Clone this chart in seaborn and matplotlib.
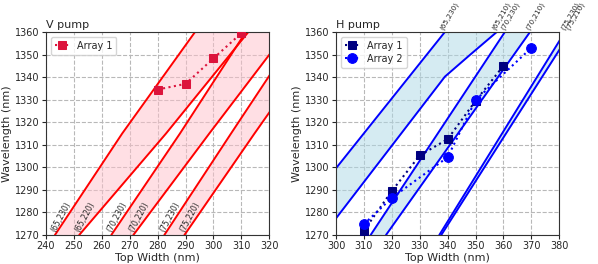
import numpy as np
import matplotlib
matplotlib.use("Agg")
import matplotlib.pyplot as plt
import seaborn as sns

sns.set_style("ticks", {"axes.grid": True, "grid.linestyle": "--", "grid.color": "#b8b8b8"})
plt.rcParams['font.family'] = ['DejaVu Sans']

# ---- V pump: simulated (top width, wavelength) curves
v_names = ["(65,230)", "(65,220)", "(70,230)", "(70,220)", "(75,230)", "(75,220)"]
v_wl = [
    [1270, 1315, 1360],
    [1270, 1315, 1360],
    [1270, 1315, 1360],
    [1270, 1315, 1360],
    [1270, 1315, 1360],
    [1270, 1315, 1360],
]
v_width = [
    [243.2, 267.3, 293.4],
    [251.9, 283.0, 312.5],
    [263.4, 288.0, 311.6],
    [271.3, 298.5, 326.2],
    [282.4, 306.3, 330.4],
    [289.6, 314.7, 340.3],
]
v_arr1_x = [280, 290, 300, 310]
v_arr1_y = [1334.5, 1337.0, 1348.3, 1359.5]

# ---- H pump (first two curves run past the left edge of the axes)
h_names = ["(65,230)", "(65,210)", "(70,230)", "(70,210)", "(75,230)", "(75,210)"]
h_wl = [
    [1270, 1299.6, 1360],
    [1270, 1277.4, 1340.2, 1350.5, 1360],
    [1270, 1360],
    [1270, 1360],
    [1270, 1360],
    [1270, 1360],
]
h_width = [
    [280.9, 300.0, 339.0],
    [295.4, 300.0, 339.0, 348.6, 357.6],
    [312.4, 360.5],
    [317.9, 369.5],
    [337.0, 382.0],
    [337.7, 384.1],
]
h_arr1_x = [310, 320, 330, 340, 350, 360]
h_arr1_y = [1272.0, 1289.5, 1305.3, 1312.5, 1329.5, 1345.0]
h_arr2_x = [310, 320, 340, 350, 370]
h_arr2_y = [1274.8, 1286.5, 1304.5, 1329.8, 1353.0]


def draw_pump(ax, names, wl, width, line_c, fill_c, label_top):
    grid = np.linspace(1270, 1360, 200)
    for i in range(0, len(names), 2):
        xa = np.interp(grid, wl[i], width[i])
        xb = np.interp(grid, wl[i + 1], width[i + 1])
        ax.fill_betweenx(grid, xa, xb, color=fill_c, alpha=0.5, lw=0, zorder=1)
    for name, w, x in zip(names, wl, width):
        ax.plot(x, w, color=line_c, lw=1.4, zorder=2)
        if label_top:
            ax.text(x[-1], w[-1] + 0.3, name, rotation=60, fontsize=5.2,
                    ha="left", va="bottom", rotation_mode="anchor", clip_on=False)
        else:
            ax.text(x[0] + 0.8, w[0] + 0.5, name, rotation=62, fontsize=5.6,
                    ha="left", va="bottom", rotation_mode="anchor", clip_on=False)


fig = plt.figure(figsize=(5.98, 2.64), dpi=100)
ax1 = fig.add_axes([0.0769, 0.1098, 0.3734, 0.769])
ax2 = fig.add_axes([0.5619, 0.1098, 0.3734, 0.769])

draw_pump(ax1, v_names, v_wl, v_width, "red", "pink", False)
sns.lineplot(x=v_arr1_x, y=v_arr1_y, ax=ax1, color="crimson", marker="s", markersize=6,
             markeredgecolor="crimson", linestyle=":", lw=1.5, label="Array 1", zorder=3)
ax1.set_xlim(240, 320)
ax1.set_ylim(1270, 1360)
ax1.set_title("V pump", loc="left", fontsize=8, pad=3)

draw_pump(ax2, h_names, h_wl, h_width, "blue", "lightblue", True)
sns.lineplot(x=h_arr1_x, y=h_arr1_y, ax=ax2, color="navy", marker="s", markersize=6,
             markeredgecolor="navy", linestyle=":", lw=1.5, label="Array 1", zorder=3)
sns.lineplot(x=h_arr2_x, y=h_arr2_y, ax=ax2, color="blue", marker="o", markersize=7,
             markeredgecolor="blue", linestyle=":", lw=1.5, label="Array 2", zorder=3)
ax2.set_xlim(300, 380)
ax2.set_ylim(1270, 1360)
ax2.set_title("H pump", loc="left", fontsize=8, pad=3)

for ax in (ax1, ax2):
    ax.set_xlabel("Top Width (nm)", fontsize=8, labelpad=1)
    ax.set_ylabel("Wavelength (nm)", fontsize=8, labelpad=2)
    ax.tick_params(labelsize=7, length=3, pad=1.5)
    ax.set_yticks(np.arange(1270, 1361, 10))
    ax.set_xticks(np.arange(ax.get_xlim()[0], ax.get_xlim()[1] + 1, 10))
    ax.legend(loc="upper left", fontsize=7, frameon=True, handlelength=1.5,
              borderpad=0.4, labelspacing=0.3)
    for s in ax.spines.values():
        s.set_color("#333333")
        s.set_linewidth(0.8)

fig.savefig("out.png", dpi=100)
